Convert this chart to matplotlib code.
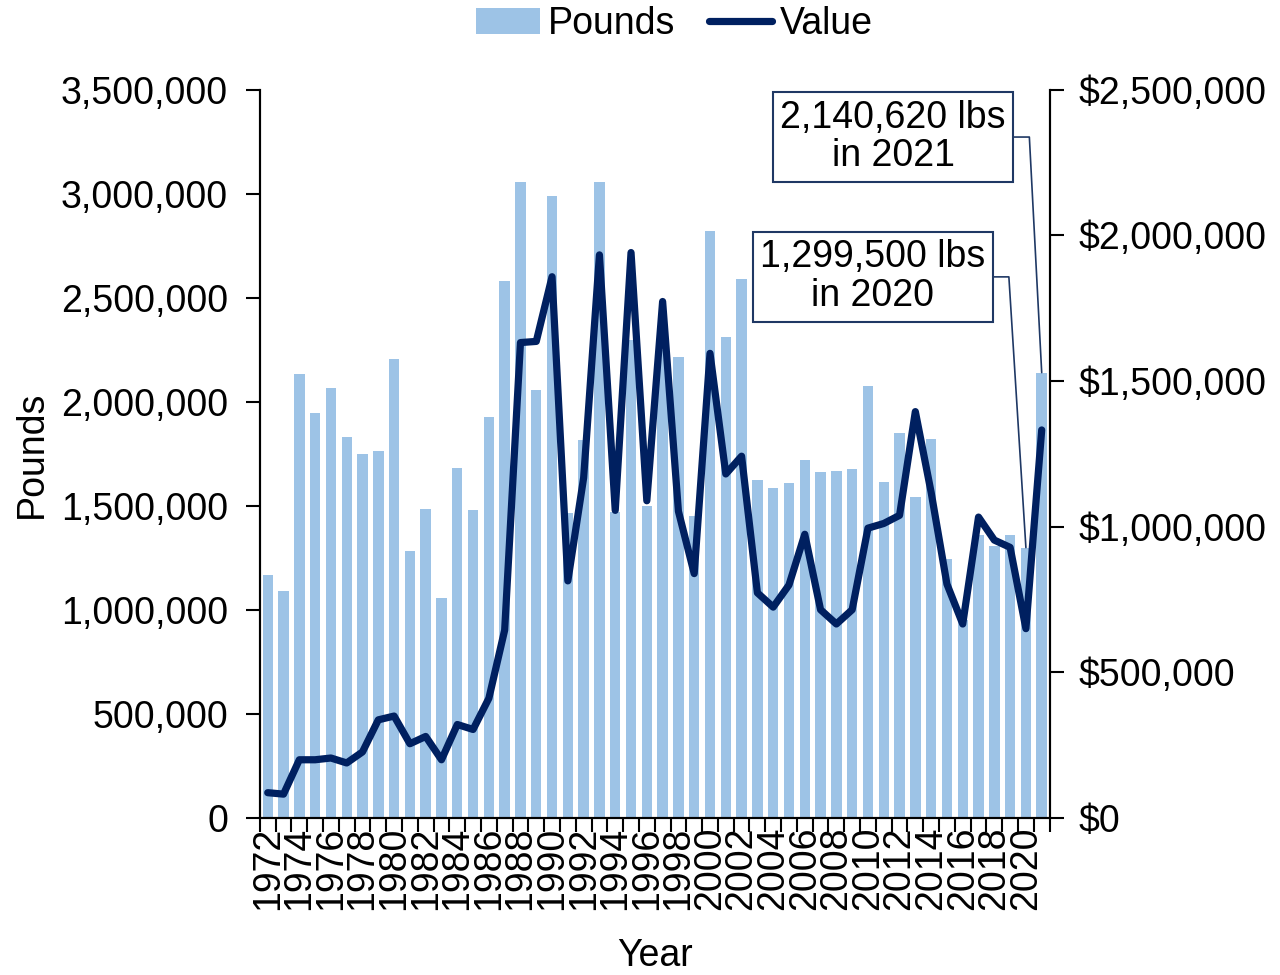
import matplotlib

matplotlib.use("Agg")

import matplotlib.pyplot as plt
import numpy as np
from matplotlib.ticker import FuncFormatter, FixedLocator

plt.rcParams["font.family"] = ["Liberation Sans", "DejaVu Sans"]

years = list(range(1972, 2022))

pounds = [
    1166000, 1090000, 2135000, 1945000, 2068000, 1832000, 1750000, 1763000, 2207000, 1284000,
    1486000, 1058000, 1684000, 1480000, 1925000, 2583000, 3056000, 2055000, 2991000, 1466000,
    1815000, 3056000, 1470000, 2295000, 1500000, 2250000, 2215000, 1450000, 2820000, 2313000,
    2588000, 1626000, 1588000, 1610000, 1720000, 1662000, 1668000, 1675000, 2075000, 1617000,
    1848000, 1543000, 1822000, 1245000, 950000, 1360000, 1306000, 1360000, 1299500, 2140620,
]

value = [
    87000, 82000, 200000, 200000, 206000, 189000, 227000, 337000, 350000, 255000,
    280000, 200000, 321000, 304000, 411000, 645000, 1632000, 1636000, 1858000, 814000,
    1168000, 1933000, 1056000, 1941000, 1089000, 1773000, 1053000, 839000, 1595000, 1181000,
    1242000, 773000, 724000, 800000, 974000, 715000, 666000, 715000, 995000, 1011000,
    1039000, 1395000, 1118000, 803000, 666000, 1033000, 954000, 929000, 650000, 1332000,
]

# (year, text, box centre in axes fraction, angle of the leader's last leg)
callouts = [
    (2021, "2,140,620 lbs\nin 2021", (0.802, 0.935), 93),
    (2020, "1,299,500 lbs\nin 2020", (0.776, 0.743), 93.6),
]

BAR_COLOR = "#9DC3E6"
LINE_COLOR = "#002060"
FS = 27

fig = plt.figure(figsize=(12.8, 9.75), dpi=100)
ax = fig.add_axes([0.203, 0.161, 0.617, 0.747])
ax2 = ax.twinx()

x = np.arange(len(years))
bars = ax.bar(x, pounds, width=0.66, color=BAR_COLOR, zorder=1, label="Pounds")
(line,) = ax2.plot(x, value, color=LINE_COLOR, lw=5.2, solid_joinstyle="round",
                   solid_capstyle="round", label="Value")

ax.set_xlim(-0.5, len(years) - 0.5)
ax.set_ylim(0, 3500000)
ax2.set_ylim(0, 2500000)
ax.set_yticks(np.arange(0, 3500001, 500000))
ax2.set_yticks(np.arange(0, 2500001, 500000))
ax.yaxis.set_major_formatter(FuncFormatter(lambda v, _: f"{v:,.0f}"))
ax2.yaxis.set_major_formatter(FuncFormatter(lambda v, _: f"${v:,.0f}"))

label_idx = x[::2]
ax.set_xticks(label_idx)
ax.set_xticklabels([str(years[i]) for i in label_idx], rotation=90)
ax.xaxis.set_minor_locator(FixedLocator(np.arange(-0.5, len(years), 1.0)))
ax.tick_params(axis="x", which="major", length=0, pad=6, labelsize=FS)
ax.tick_params(axis="x", which="minor", length=10, width=1.5, direction="out")
ax.tick_params(axis="y", length=10, width=1.5, direction="out", labelsize=FS, pad=13)
ax2.tick_params(axis="y", length=10, width=1.5, direction="out", labelsize=FS, pad=11)

for a in (ax, ax2):
    a.spines["top"].set_visible(False)
    for s in ("left", "right", "bottom"):
        a.spines[s].set_linewidth(1.5)

ax.set_xlabel("Year", fontsize=FS, labelpad=20)
ax.set_ylabel("Pounds", fontsize=FS, labelpad=8)

for year, text, pos, angle_b in callouts:
    i = years.index(year)
    ax.annotate(
        text, xy=(i, pounds[i]), xycoords="data",
        xytext=pos, textcoords="axes fraction",
        ha="center", va="center", fontsize=FS, linespacing=1.1, zorder=5,
        bbox=dict(boxstyle="square,pad=0.2", fc="white", ec="#1F3864", lw=1.5),
        arrowprops=dict(arrowstyle="-", color="#1F3864", lw=1.2,
                        connectionstyle=f"angle,angleA=0,angleB={angle_b},rad=0",
                        shrinkA=0, shrinkB=0),
    )

fig.legend(handles=[bars, line], labels=["Pounds", "Value"], loc="upper center",
           bbox_to_anchor=(0.527, 1.028), ncol=2, frameon=False, fontsize=FS,
           handlelength=1.7, handletextpad=0.2, columnspacing=0.9)

fig.savefig("out.png", dpi=100)
